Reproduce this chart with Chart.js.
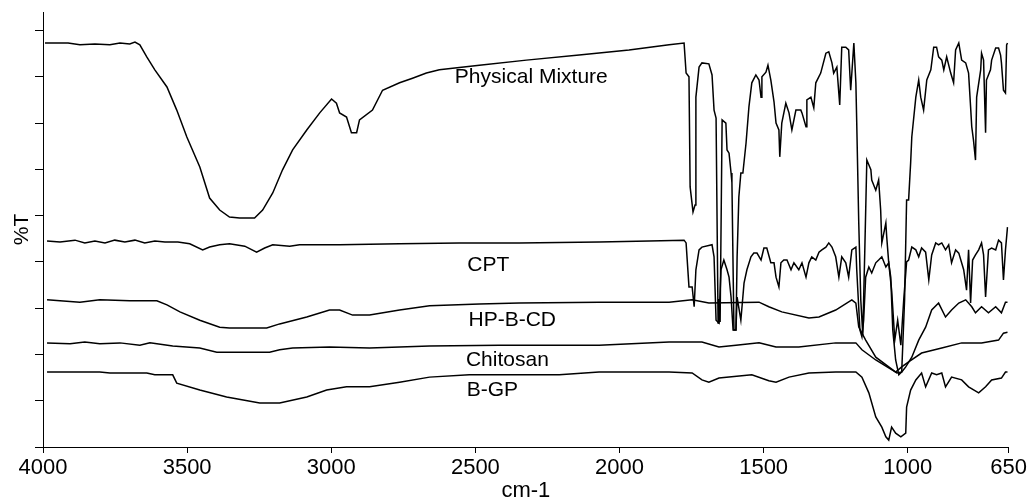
<!DOCTYPE html>
<html><head><meta charset="utf-8">
<script src="https://cdn.jsdelivr.net/npm/chart.js@4/dist/chart.umd.min.js"></script>
<style>html,body{margin:0;padding:0;background:#fff}#wrap{width:1029px;height:502px}</style>
</head><body><div id="wrap"><canvas id="ir"></canvas></div>
<script>
// wavenumber (cm-1) / %T pairs
const xTicks=[4000,3500,3000,2500,2000,1500,1000,650];
const yTicks=[0,10,20,30,40,50,60,70,80,90];
const pmWave=[3993,3913,3872,3820,3768,3733,3699,3681,3664,3640,3612,3570,3536,3501,3456,3422,3387,3353,3318,3266,3238,3203,3169,3134,3085,3040,2999,2982,2971,2947,2930,2912,2902,2857,2822,2763,2718,2670,2625,2486,2323,2140,1967,1828,1776,1769,1759,1755,1745,1738,1735,1724,1714,1690,1679,1672,1665,1658,1655,1651,1644,1631,1627,1620,1613,1610,1603,1596,1592,1586,1579,1572,1561,1551,1541,1527,1516,1509,1506,1492,1485,1475,1464,1457,1447,1444,1437,1423,1412,1402,1388,1371,1367,1353,1350,1336,1326,1319,1302,1284,1274,1263,1257,1246,1236,1229,1215,1205,1198,1187,1180,1177,1170,1163,1156,1149,1142,1128,1125,1111,1101,1094,1090,1076,1073,1066,1059,1052,1042,1031,1021,1011,1004,997,990,986,972,962,955,945,934,920,910,900,893,882,875,865,851,841,834,823,813,799,789,782,778,772,765,761,747,744,737,730,727,713,709,695,685,678,675,668,661,657,654];
const pmT=[87.3,87.3,86.9,87.1,86.9,87.3,87.1,87.5,86.9,84.3,81.5,77.8,72.8,67.0,60.5,53.8,51.2,49.7,49.5,49.5,51.2,54.9,59.9,64.2,68.5,72.2,75.2,74.3,72.2,71.3,67.9,67.9,70.7,72.8,77.1,78.7,79.7,80.8,81.5,82.5,83.6,84.7,85.8,86.9,87.3,80.8,80.0,56.2,50.8,52.3,75.6,82.1,83.0,82.8,80.4,72.8,71.1,26.8,32.0,27.0,70.7,70.0,64.2,63.5,59.2,57.1,25.3,25.3,41.1,54.0,59.2,59.2,65.7,73.5,78.7,80.4,79.3,75.6,80.0,81.0,82.5,79.3,74.6,70.0,68.5,62.7,70.0,74.3,72.2,68.5,72.8,72.8,72.2,69.2,75.0,75.6,73.3,78.7,80.8,85.1,85.4,83.0,80.8,82.1,73.9,86.4,86.4,85.8,77.1,87.3,78.7,70.0,48.4,31.8,24.2,42.6,62.0,59.9,57.7,55.5,57.7,51.2,44.1,48.4,45.4,39.8,36.7,25.3,18.8,15.6,16.2,31.8,53.4,53.4,61.4,67.0,75.6,79.3,75.6,72.8,79.3,81.5,86.4,86.4,84.3,83.6,81.5,84.3,80.8,78.7,85.8,87.3,83.6,83.0,80.8,73.5,69.2,66.3,62.0,75.6,81.5,85.1,83.6,67.9,79.3,81.5,83.6,86.2,86.2,84.7,83.0,77.1,76.5,86.9,87.3];
const cptWave=[3986,3941,3889,3855,3820,3785,3751,3716,3681,3647,3612,3577,3532,3491,3446,3422,3387,3353,3300,3259,3231,3203,3144,3110,2971,2763,2556,2348,2071,1897,1776,1769,1759,1748,1741,1735,1724,1714,1679,1672,1665,1655,1648,1638,1627,1620,1613,1606,1596,1592,1579,1568,1558,1544,1534,1523,1509,1499,1489,1475,1464,1457,1447,1440,1430,1419,1405,1395,1378,1367,1353,1343,1333,1319,1308,1298,1284,1274,1263,1250,1239,1229,1215,1205,1194,1180,1177,1166,1159,1153,1146,1135,1125,1111,1101,1090,1076,1066,1056,1045,1035,1024,1014,1004,997,986,972,962,952,938,927,917,903,893,882,869,858,848,834,823,806,796,789,782,775,765,754,744,737,730,720,709,695,685,675,668,661,654];
const cptT=[44.5,44.3,44.7,44.1,44.5,44.1,44.7,44.3,44.7,44.1,44.5,44.3,44.3,43.9,42.6,43.2,43.7,43.9,43.4,42.1,43.0,43.7,43.4,43.7,43.7,43.9,44.1,44.1,44.3,44.5,44.7,44.1,34.6,34.6,30.3,38.3,42.6,43.2,43.7,41.1,27.4,26.8,38.3,40.4,38.3,36.7,32.4,25.3,25.3,32.4,27.4,35.4,38.3,41.1,41.9,41.9,40.4,43.0,43.0,39.8,39.8,36.7,34.6,39.8,40.4,40.4,38.3,39.8,38.3,39.8,36.7,39.8,41.1,40.4,42.1,42.6,43.2,44.1,43.2,41.1,36.7,41.1,39.8,36.7,42.6,43.2,38.3,25.3,23.8,27.4,36.7,38.9,37.6,39.8,40.4,41.1,38.9,39.8,33.9,23.1,27.4,22.0,31.8,40.0,40.4,43.2,42.6,41.1,43.0,42.1,36.1,41.5,44.1,43.7,44.1,42.6,43.7,39.8,42.6,41.9,38.3,33.9,42.6,31.1,40.4,41.5,42.6,44.1,41.5,32.4,42.6,43.0,42.6,44.7,44.1,36.1,42.6,47.5];
const hpWave=[3986,3941,3872,3803,3699,3605,3570,3525,3456,3387,3353,3224,3179,3085,3006,2971,2926,2867,2763,2659,2486,2348,2071,1828,1748,1690,1516,1482,1437,1343,1308,1250,1194,1180,1170,1146,1111,1066,1038,1021,1007,986,962,938,917,893,869,848,823,799,778,765,744,720,695,675,661,654];
const hpT=[31.8,31.6,31.3,31.8,31.6,31.6,30.7,29.2,27.4,25.9,25.7,25.7,26.6,28.1,29.6,29.6,28.5,28.5,29.6,30.5,30.9,31.1,31.3,31.3,31.8,31.1,31.3,30.3,29.2,27.9,28.1,29.6,31.8,31.1,25.9,23.1,19.4,17.3,16.0,16.2,17.3,19.4,23.1,25.9,29.6,31.1,28.1,29.6,31.1,31.8,30.3,29.0,30.3,29.0,30.3,29.0,31.3,31.3];
const chiWave=[3986,3906,3855,3803,3733,3664,3629,3550,3456,3397,3214,3179,3134,3006,2867,2659,2417,2071,1828,1714,1655,1596,1516,1457,1378,1250,1180,1159,1111,1066,1042,1021,997,952,882,813,744,685,668,654];
const chiT=[22.5,22.3,22.7,22.3,22.5,22.0,22.5,21.8,21.4,20.5,20.5,21.0,21.4,21.6,21.4,21.8,22.0,22.0,22.7,22.7,21.6,22.0,22.5,21.6,21.6,22.5,22.5,21.0,18.8,17.1,16.2,17.3,18.4,20.3,21.4,22.5,22.5,23.1,24.6,24.8];
const bgpWave=[3986,3803,3768,3640,3612,3550,3536,3456,3363,3248,3179,3085,3016,2947,2867,2763,2659,2521,2209,2071,1828,1748,1714,1690,1655,1541,1482,1457,1412,1343,1250,1180,1159,1135,1111,1090,1076,1066,1056,1042,1024,1007,1004,990,972,952,938,917,900,882,869,848,813,789,754,730,709,675,661,654];
const bgpT=[16.2,16.2,16.0,16.0,15.6,15.6,13.8,12.3,10.8,9.5,9.5,10.8,12.3,13.0,13.0,14.0,15.1,15.6,15.6,16.2,16.2,16.0,14.5,14.0,14.9,15.6,14.3,14.0,15.1,16.0,16.2,16.2,15.1,11.7,6.5,4.3,2.2,1.5,4.3,3.0,2.2,3.0,8.6,12.3,14.5,16.0,13.0,16.0,15.6,16.0,13.0,15.1,14.5,13.0,11.7,13.0,14.5,14.9,16.2,16.2];
const labelText=['Physical Mixture','CPT','HP-B-CD','Chitosan','B-GP'];
const labelWave=[2306,2455,2372,2389,2441];
const labelT=[80.0,39.3,27.4,18.8,12.3];

const FONT='"Liberation Sans", Arial, sans-serif';
const pts=(w,t)=>w.map((x,i)=>({x,y:t[i]}));
const series=[['Physical Mixture',pmWave,pmT],['CPT',cptWave,cptT],['HP-B-CD',hpWave,hpT],['Chitosan',chiWave,chiT],['B-GP',bgpWave,bgpT]];

const tagPlugin={id:'tags',afterDatasetsDraw(c){
  const {ctx,scales:{x,y}}=c;
  ctx.save();ctx.fillStyle='#000';ctx.font='21px '+FONT;ctx.textAlign='center';ctx.textBaseline='middle';
  labelText.forEach((s,i)=>ctx.fillText(s,x.getPixelForValue(labelWave[i]),y.getPixelForValue(labelT[i])));
  ctx.restore();
}};

new Chart(document.getElementById('ir'),{
  type:'line',
  data:{datasets:series.map(([label,w,t])=>({label,data:pts(w,t),borderColor:'#000',borderWidth:1.5,pointRadius:0,tension:0,fill:false}))},
  options:{responsive:true,maintainAspectRatio:false,animation:false,
    layout:{padding:{top:12,right:19,left:0,bottom:0}},
    plugins:{legend:{display:false},tooltip:{enabled:false}},
    scales:{
      x:{type:'linear',reverse:true,min:650,max:4000,
        afterBuildTicks:s=>{s.ticks=xTicks.map(value=>({value}))},
        afterFit:s=>{s.height=55},
        ticks:{color:'#000',font:{family:FONT,size:22},padding:2,maxRotation:0,autoSkip:false,callback:v=>String(v)},
        grid:{drawOnChartArea:false,color:'#000',tickLength:6},
        border:{color:'#000',width:1},
        title:{display:true,text:'cm-1',color:'#000',font:{family:FONT,size:22,lineHeight:1},padding:0}},
      y:{min:0,max:94,
        afterBuildTicks:s=>{s.ticks=yTicks.map(value=>({value}))},
        afterFit:s=>{s.width=43},
        ticks:{callback:()=>''},
        grid:{drawOnChartArea:false,color:'#000',tickLength:8},
        border:{color:'#000',width:1},
        title:{display:true,text:'%T',color:'#000',font:{family:FONT,size:21,lineHeight:1},padding:{top:12,bottom:0}}}
    }},
  plugins:[tagPlugin]
});
</script></body></html>
